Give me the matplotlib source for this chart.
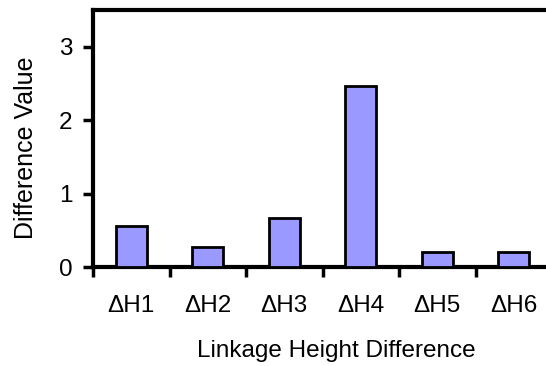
import matplotlib
matplotlib.use("Agg")
import matplotlib.pyplot as plt
import numpy as np

categories = ["\u0394H1", "\u0394H2", "\u0394H3", "\u0394H4", "\u0394H5", "\u0394H6"]
values = [0.56, 0.27, 0.67, 2.47, 0.21, 0.21]

plt.rcParams["font.family"] = ["Liberation Sans", "DejaVu Sans"]

fig = plt.figure(figsize=(5.46, 3.66), dpi=100)
ax = fig.add_axes([93 / 546, 1 - 267 / 366, 459 / 546, 257 / 366])

x = np.arange(len(categories))
ax.bar(x, values, width=0.4, color="#9999ff", edgecolor="black", linewidth=2, zorder=3)

ax.set_xlim(-0.5, len(categories) - 0.5)
ax.set_ylim(0, 3.5)
ax.set_yticks([0, 1, 2, 3])
ax.set_xticks(np.arange(len(categories) + 1) - 0.5)
ax.set_xticklabels([])
ax.set_xticks(x, minor=True)
ax.set_xticklabels(categories, minor=True)

ax.tick_params(axis="y", which="major", direction="out", length=7, width=2.5, labelsize=17.5, pad=8)
ax.tick_params(axis="x", which="major", direction="out", length=7, width=2.5)
ax.tick_params(axis="x", which="minor", length=0, labelsize=17.5, pad=20)

for side in ["left", "top", "bottom", "right"]:
    ax.spines[side].set_linewidth(3)

ax.set_xlabel("Linkage Height Difference", fontsize=17.5)
ax.xaxis.set_label_coords(0.53, -0.285)
ax.set_ylabel("Difference Value", fontsize=18)
ax.yaxis.set_label_coords(-0.12, 0.465)

fig.savefig("out.png", dpi=100)
